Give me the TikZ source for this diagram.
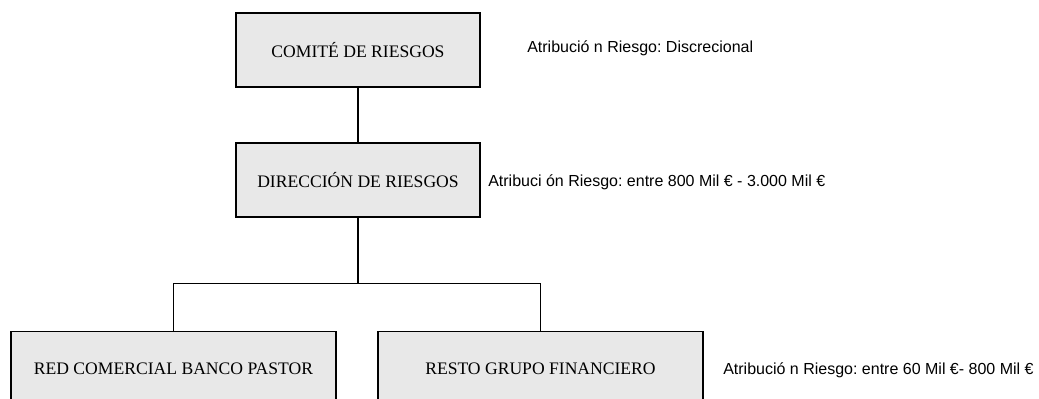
\documentclass[tikz,border=0pt]{standalone}
\usepackage{fontspec}
\setmainfont{Liberation Serif}
\newfontfamily\notefont{Liberation Sans}
\usepackage{xcolor}
\usetikzlibrary{positioning,calc}
\definecolor{boxgray}{RGB}{232,232,232}
\frenchspacing

\begin{document}
\begin{tikzpicture}[x=0.75pt, y=-0.75pt,
    orgbox/.style={draw, rectangle, line width=1pt, fill=boxgray, inner sep=2pt,
        minimum height=55.5pt, font=\fontsize{13.2}{15}\selectfont},
    note/.style={anchor=west, inner sep=0pt, font=\notefont\fontsize{12}{14}\selectfont},
    link/.style={line width=0.8pt}]
    \clip (0,0) rectangle (1039,399);

    % Comite
    \node[orgbox, minimum width=183pt] (comite) at (358,50) {COMITÉ DE RIESGOS};
    \node[note] (notecomite) at (527,48) {Atribució n Riesgo: Discrecional};

    % Direccion
    \node[orgbox, minimum width=183pt] (direccion) at (358,180) {DIRECCIÓN DE RIESGOS};
    \node[note] (notedireccion) at (488,182) {Atribuci ón Riesgo: entre 800 Mil € - 3.000 Mil €};

    % Red comercial y resto del grupo
    \node[orgbox, minimum width=243.75pt, minimum height=56pt] (red) at (173.5,368.5) {RED COMERCIAL BANCO PASTOR};
    \node[orgbox, minimum width=243.75pt, minimum height=56pt] (resto) at (540.5,368.5) {RESTO GRUPO FINANCIERO};
    \node[note] (noteresto) at (723,370) {Atribució n Riesgo: entre 60 Mil €- 800 Mil €};

    % Lineas
    \coordinate (split) at ($(direccion.south)+(0,66)$);
    \draw[link] (comite.south) -- (comite.south |- direccion.north);
    \draw[link] (direccion.south) -- (split);
    \draw[link] (red.north) |- (split) -| (resto.north);
\end{tikzpicture}
\end{document}
